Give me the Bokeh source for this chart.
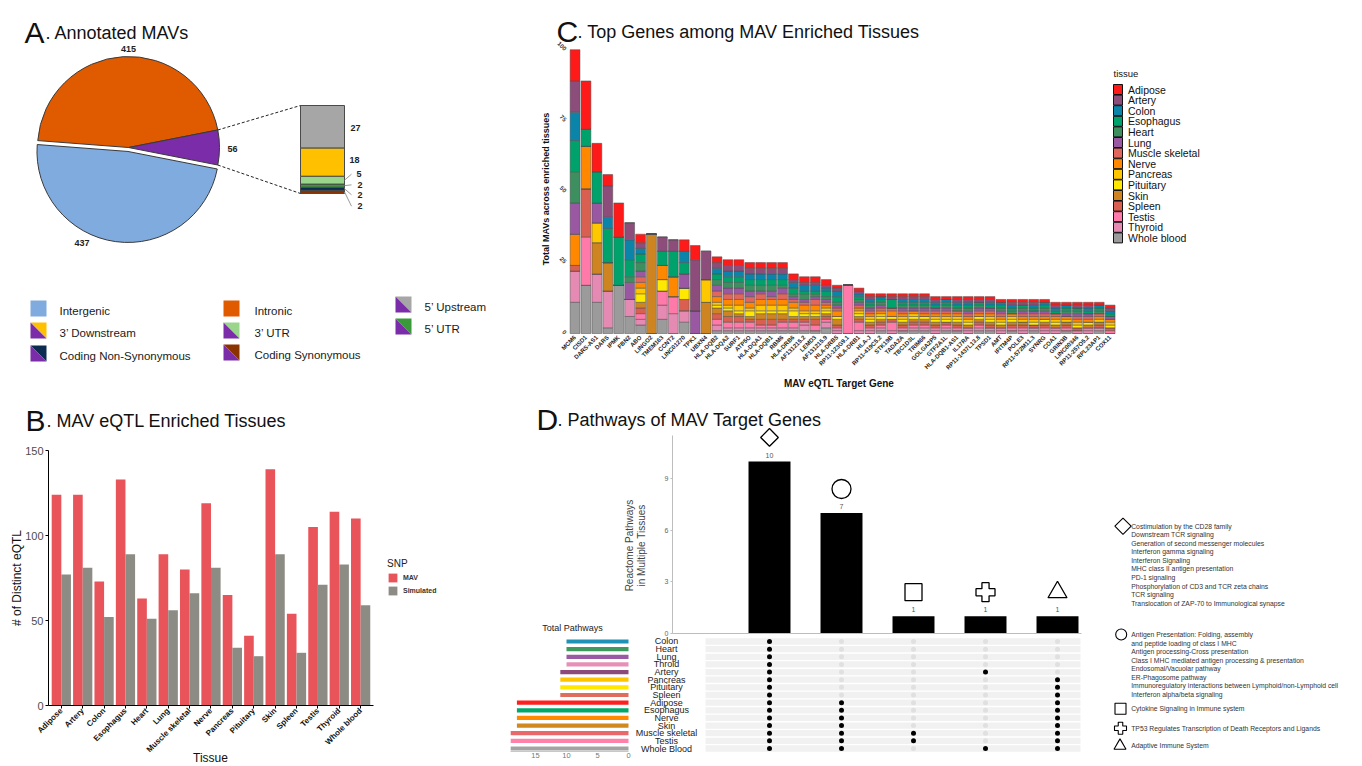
import math
from bokeh.plotting import figure
from bokeh.models import (Range1d, FixedTicker, Legend, LegendItem, LinearAxis,
                          ColumnDataSource)
from bokeh.layouts import row, column
from bokeh.embed import file_html
from bokeh.resources import INLINE
from bokeh.core.properties import value

FONT = "Liberation Sans"
FV = value(FONT)

# ------------------------------------------------------------------ data A
pie_names = ["Intergenic", "Intronic", "Other"]
pie_values = [437, 415, 56]
pie_colors = ["#80ABDE", "#E05A00", "#7B2CA8"]

box_names = ["Coding Synonymous", "Coding Non-Synonymous", "5' UTR", "3' UTR",
             "3' Downstream", "5' Upstream"]          # bottom -> top
box_values = [2, 2, 2, 5, 18, 27]
box_colors = ["#8B3300", "#0D2A4F", "#3A9A3A", "#99D68C", "#FFC000", "#A6A6A6"]

legA_names = ["Intergenic", "3\u2019 Downstream", "Coding Non-Synonymous",
              "Intronic", "3\u2019 UTR", "Coding Synonymous",
              "5\u2019 Upstream", "5\u2019 UTR"]
legA_colors = ["#80ABDE", "#FFC000", "#0D2A4F", "#E05A00", "#99D68C",
               "#8B3300", "#A6A6A6", "#3A9A3A"]
legA_split = [False, True, True, False, True, True, True, True]
OTHER_PURPLE = "#7B2CA8"

# ------------------------------------------------------------------ data B
tissues_B = ["Adipose", "Artery", "Colon", "Esophagus", "Heart", "Lung",
             "Muscle skeletal", "Nerve", "Pancreas", "Pituitary", "Skin",
             "Spleen", "Testis", "Thyroid", "Whole blood"]
mav_B = [124, 124, 73, 133, 63, 89, 80, 119, 65, 41, 139, 54, 105, 114, 110]
sim_B = [77, 81, 52, 89, 51, 56, 66, 81, 34, 29, 89, 31, 71, 83, 59]
MAV_C = "#E9535A"
SIM_C = "#8C8B84"

# ------------------------------------------------------------------ data C
genes = ["MCM6", "CISD1", "DARS-AS1", "DARS", "IPMK", "FBN2", "ABO", "LINGO2",
         "TMEM163", "CCNT2", "LINC01270", "TPK1", "UBXN4", "HLA-DQB2",
         "HLA-DQA2", "SURF1", "ATP5O", "HLA-DQA1", "HLA-DQB1", "RBM6",
         "HLA-DRB6", "AF131215.2", "LEMD3", "AF131215.9", "HLA-DRB5",
         "RP11-123G9.1", "HLA-DRB1", "HLA-J", "RP11-419C5.2", "STK19B",
         "TADA2A", "TBC1D3L", "TRIM66", "GOLGA2P5", "GTF2A1L", "HLA-DQB1-AS1",
         "IL17RA", "RP11-1437L13.8", "TPSD1", "AMT", "IFITM4P", "POLE3",
         "RP11-572M11.3", "SYNRG", "COA1", "GRIN3B", "LINC00346",
         "RP11-257O5.2", "RPL23AP1", "COX11"]

tissues_C = ["Adipose", "Artery", "Colon", "Esophagus", "Heart", "Lung",
             "Muscle skeletal", "Nerve", "Pancreas", "Pituitary", "Skin",
             "Spleen", "Testis", "Thyroid", "Whole blood"]
colors_C = ["#FF1A1A", "#8C4D7B", "#0A84A9", "#00A26B", "#3E8F5F", "#9A58A3",
            "#E1665B", "#FF8800", "#FFC700", "#FFE900", "#CD8421", "#D95F50",
            "#FF79A9", "#E58AB2", "#9B9B9B"]

adipose = [11, 17, 10, 4, 12, 0, 3, 0, 0, 0,
           4, 5, 0, 2, 2, 2, 2, 2, 2, 2,
           2, 2, 2, 2, 1, 0, 1, 1, 1, 1,
           1, 1, 1, 1, 1, 1, 1, 1, 1, 1,
           1, 1, 1, 1, 1, 1, 1, 1, 1, 1]
artery = [11, 0, 0, 11, 0, 6, 2, 0, 5, 4,
          0, 18, 10, 2, 2, 2, 2, 2, 2, 2,
          1, 1, 1, 1, 1, 0, 1, 1, 0, 1,
          1, 1, 1, 1, 0, 1, 1, 1, 1, 0,
          1, 1, 1, 0, 1, 0, 1, 1, 0, 1]
colon = [10, 0, 0, 4, 0, 7, 2, 0, 0, 0,
         4, 0, 0, 2, 2, 2, 2, 2, 2, 2,
         2, 2, 2, 1, 2, 0, 1, 1, 1, 0,
         1, 1, 1, 1, 1, 1, 1, 0, 1, 1,
         1, 0, 1, 1, 1, 1, 0, 1, 1, 1]
esophagus = [11, 6, 11, 12, 17, 6, 3, 0, 5, 9,
             4, 0, 0, 2, 2, 2, 2, 2, 2, 2,
             2, 1, 1, 2, 2, 0, 1, 1, 1, 3,
             1, 1, 1, 1, 1, 1, 1, 1, 1, 1,
             1, 1, 1, 1, 1, 1, 1, 1, 1, 1]
heart = [11, 0, 0, 0, 0, 2, 3, 0, 0, 0,
         0, 0, 0, 2, 2, 2, 2, 2, 2, 1,
         1, 2, 1, 1, 1, 0, 1, 1, 1, 0,
         1, 1, 1, 0, 1, 1, 1, 1, 0, 1,
         1, 1, 0, 1, 0, 1, 1, 0, 1, 0]
lung = [11, 0, 7, 0, 0, 6, 2, 0, 0, 0,
        5, 8, 0, 2, 2, 2, 2, 1, 2, 2,
        1, 1, 1, 1, 1, 0, 1, 1, 1, 0,
        1, 1, 1, 1, 1, 0, 1, 1, 1, 1,
        0, 1, 1, 1, 0, 1, 1, 1, 0, 1]
muscle = [0, 0, 0, 0, 0, 0, 2, 0, 0, 0,
          0, 0, 0, 2, 2, 2, 2, 2, 1, 2,
          1, 1, 2, 1, 1, 0, 1, 1, 1, 1,
          1, 0, 1, 1, 1, 1, 1, 1, 1, 1,
          0, 1, 1, 1, 1, 0, 1, 1, 1, 0]
nerve = [11, 15, 0, 0, 0, 0, 2, 0, 5, 7,
         0, 0, 0, 2, 2, 2, 2, 2, 2, 2,
         2, 2, 2, 1, 2, 0, 1, 1, 1, 2,
         1, 1, 1, 1, 1, 1, 1, 1, 1, 1,
         1, 1, 1, 1, 1, 1, 1, 1, 1, 1]
pancreas = [0, 0, 7, 0, 0, 0, 2, 0, 0, 0,
            0, 0, 8, 1, 1, 2, 1, 2, 2, 2,
            1, 1, 1, 1, 0, 0, 1, 1, 1, 0,
            1, 1, 0, 1, 1, 1, 1, 0, 1, 1,
            1, 1, 1, 0, 1, 1, 1, 0, 1, 1]
pituitary = [0, 0, 0, 0, 0, 0, 3, 0, 4, 0,
             4, 0, 0, 1, 1, 1, 2, 1, 1, 1,
             2, 1, 1, 1, 1, 0, 1, 1, 1, 1,
             1, 1, 1, 1, 1, 1, 1, 1, 1, 1,
             1, 0, 1, 1, 1, 0, 1, 1, 0, 1]
skin = [0, 0, 11, 10, 0, 0, 2, 35, 0, 0,
        0, 0, 11, 2, 2, 1, 1, 2, 2, 2,
        1, 1, 1, 1, 2, 0, 1, 1, 1, 0,
        1, 1, 1, 1, 0, 1, 1, 1, 1, 1,
        1, 1, 0, 1, 1, 1, 0, 1, 1, 0]
spleen = [2, 17, 0, 0, 0, 0, 2, 0, 0, 0,
          4, 0, 0, 2, 2, 2, 1, 2, 2, 1,
          1, 1, 2, 1, 1, 0, 1, 1, 1, 1,
          1, 1, 1, 1, 1, 1, 0, 1, 1, 0,
          1, 1, 1, 1, 0, 1, 1, 0, 1, 1]
testis = [0, 17, 0, 0, 0, 0, 2, 0, 5, 6,
          0, 0, 0, 2, 2, 2, 2, 1, 1, 2,
          2, 1, 2, 1, 1, 17, 3, 1, 1, 3,
          1, 1, 1, 1, 1, 1, 1, 1, 0, 1,
          1, 1, 0, 1, 1, 1, 0, 1, 0, 1]
thyroid = [11, 0, 10, 13, 0, 6, 2, 0, 5, 7,
           4, 0, 0, 2, 1, 1, 1, 1, 1, 1,
           1, 2, 0, 2, 1, 0, 1, 1, 1, 1,
           0, 1, 1, 1, 1, 0, 1, 1, 1, 1,
           0, 1, 1, 1, 1, 0, 1, 1, 1, 0]
whole_blood = [11, 17, 11, 2, 17, 6, 3, 0, 5, 0,
               4, 0, 0, 1, 1, 1, 1, 1, 1, 1,
               1, 1, 1, 2, 0, 0, 0, 0, 1, 0,
               1, 1, 1, 0, 1, 1, 0, 1, 1, 0,
               1, 0, 1, 0, 0, 1, 0, 0, 1, 0]
series_C = [adipose, artery, colon, esophagus, heart, lung, muscle, nerve,
            pancreas, pituitary, skin, spleen, testis, thyroid, whole_blood]

# ------------------------------------------------------------------ data D
upset_counts = [10, 7, 1, 1, 1]
upset_shapes = ["diamond", "circle", "square", "plus", "triangle"]
d_tissues = ["Colon", "Heart", "Lung", "Throid", "Artery", "Pancreas",
             "Pituitary", "Spleen", "Adipose", "Esophagus", "Nerve", "Skin",
             "Muscle skeletal", "Testis", "Whole Blood"]
d_totals = [10, 10, 10, 10, 11, 11, 11, 11, 18, 18, 18, 18, 19, 19, 19]
d_colors = ["#1E93B6", "#3F9A5F", "#9A5BA5", "#E78FB7", "#8C4A7A", "#FFC400",
            "#FFE700", "#E06C5E", "#FF1F1F", "#00A86B", "#FF8A00", "#D0891F",
            "#E9686A", "#FF80A9", "#A3A3A3"]
set_members = [
    ["Colon", "Heart", "Lung", "Throid", "Artery", "Pancreas", "Pituitary",
     "Spleen", "Adipose", "Esophagus", "Nerve", "Skin", "Muscle skeletal",
     "Testis", "Whole Blood"],
    ["Adipose", "Esophagus", "Nerve", "Skin", "Muscle skeletal", "Testis",
     "Whole Blood"],
    ["Muscle skeletal", "Testis"],
    ["Artery", "Whole Blood"],
    ["Pancreas", "Pituitary", "Spleen", "Adipose", "Esophagus", "Nerve", "Skin",
     "Muscle skeletal", "Testis", "Whole Blood"],
]
pw_diamond = ["Costimulation by the CD28 family", "Downstream TCR signaling",
              "Generation of second messenger molecules",
              "Interferon gamma signaling", "Interferon Signaling",
              "MHC class II antigen presentation", "PD-1 signaling",
              "Phosphorylation of CD3 and TCR zeta chains", "TCR signaling",
              "Translocation of ZAP-70 to Immunological synapse"]
pw_circle = ["Antigen Presentation: Folding, assembly",
             "and peptide loading of class I MHC",
             "Antigen processing-Cross presentation",
             "Class I MHC mediated antigen processing & presentation",
             "Endosomal/Vacuolar pathway", "ER-Phagosome pathway",
             "Immunoregulatory interactions between Lymphoid/non-Lymphoid cell",
             "Interferon alpha/beta signaling"]
pw_square = ["Cytokine Signaling in Immune system"]
pw_plus = ["TP53 Regulates Transcription of Death Receptors and Ligands"]
pw_triangle = ["Adaptive Immune System"]


# ------------------------------------------------------------------ helpers
def fig(w, h, xr, yr):
    p = figure(width=w, height=h, x_range=xr, y_range=yr, output_backend="svg",
               toolbar_location=None, min_border=0, sizing_mode="fixed",
               x_axis_location=None, y_axis_location=None)
    p.grid.visible = False
    p.outline_line_color = None
    p.background_fill_color = "white"
    p.border_fill_color = "white"
    return p


def txt(p, x, y, text, size, color="#111111", style="normal", align="left",
        baseline="alphabetic", angle=0.0, **kw):
    p.text(x=[x], y=[y], text=[text], text_font=FV, text_font_size=size,
           text_color=color, text_font_style=style, text_align=align,
           text_baseline=baseline, angle=angle, **kw)


def axis(p, side, loc, ticks, size, color="#4D4D4D", bold=False, line=None,
         bounds=None, overrides=None, orient=None, tick_out=0, standoff=2, **kw):
    ax = LinearAxis(fixed_location=loc, ticker=FixedTicker(ticks=ticks), **kw)
    ax.major_label_text_font = FONT
    ax.major_label_text_font_size = size
    ax.major_label_text_color = color
    ax.major_label_text_font_style = "bold" if bold else "normal"
    ax.minor_tick_line_color = None
    ax.major_tick_in = 0
    ax.major_tick_out = tick_out
    ax.major_label_standoff = standoff
    ax.axis_line_color = line
    ax.major_tick_line_color = line if tick_out else None
    if bounds is not None:
        ax.bounds = bounds
    if overrides is not None:
        ax.major_label_overrides = overrides
    if orient is not None:
        ax.major_label_orientation = orient
    p.add_layout(ax, side)
    return ax


# ================================================================== Panel A (+ its legend)
pA = fig(508, 382, Range1d(0, 508), Range1d(-382, 0))
tot = sum(pie_values)
sweep = [v / tot * 2 * math.pi for v in pie_values]
o_s, o_e = -sweep[2] / 2, sweep[2] / 2
n_s, n_e = o_e, o_e + sweep[1]
g_s, g_e = n_e, n_e + sweep[0]
CX, CY, R = 128, -147, 91
mid = (g_s + g_e) / 2
EXPL = 4
srcA = ColumnDataSource(dict(
    x=[CX + EXPL * math.cos(mid), CX, CX],
    y=[CY + EXPL * math.sin(mid), CY, CY],
    s=[g_s, n_s, o_s], e=[g_e, n_e, o_e], c=pie_colors))
pA.wedge(x="x", y="y", radius=R, start_angle="s", end_angle="e",
         fill_color="c", line_color="#3a3a3a", line_width=1, source=srcA)

lab_deg = [244, 90, -1]
lab_r = [106, 99, 104]
pA.text(x=[CX + r * math.cos(math.radians(a)) for a, r in zip(lab_deg, lab_r)],
        y=[CY + r * math.sin(math.radians(a)) for a, r in zip(lab_deg, lab_r)],
        text=[str(v) for v in pie_values], text_font=FV, text_font_size="9px",
        text_font_style="bold", text_align="center", text_baseline="middle",
        text_color="#222222")

BOX_X0, BOX_W, BOX_BOT, BOX_H = 300, 44, -193, 88
scale = BOX_H / sum(box_values)
pA.extra_y_ranges = {"box": Range1d((-382 - BOX_BOT) / scale, (0 - BOX_BOT) / scale)}
tops, bots, acc = [], [], 0
for v in box_values:
    bots.append(acc)
    acc += v
    tops.append(acc)
pA.vbar(x=[BOX_X0 + BOX_W / 2] * len(box_values), width=BOX_W, bottom=bots, top=tops,
        fill_color=box_colors, line_color="#4a4a4a", line_width=1, y_range_name="box")
pA.segment(x0=[CX + R * math.cos(o_e), CX + R * math.cos(o_s)],
           y0=[CY + R * math.sin(o_e), CY + R * math.sin(o_s)],
           x1=[BOX_X0, BOX_X0], y1=[BOX_BOT + BOX_H, BOX_BOT],
           line_color="#222222", line_width=1, line_dash="3 2")
box_lab_y = [-8.1, -0.8, 5.5, 12.3, 21.6, 42.0]
box_lab_x = [357, 357, 357, 356, 349, 350]
small = [0, 1, 2, 3]
pA.segment(x0=[BOX_X0 + BOX_W] * 4, y0=[(bots[i] + tops[i]) / 2 for i in small],
           x1=[351] * 4, y1=[box_lab_y[i] for i in small],
           line_color="#9a9a9a", line_width=1, y_range_name="box")
pA.text(x=box_lab_x, y=box_lab_y, text=[str(v) for v in box_values], text_font=FV,
        text_font_size="9px", text_font_style="bold", text_baseline="middle",
        text_color="#222222", y_range_name="box")
txt(pA, 24, -32, "A", "30px")
txt(pA, 45, -32, ". Annotated MAVs", "18px")

leg_x0 = [30, 30, 30, 223, 223, 223, 395, 395]
leg_y0 = [300, 322, 345, 300, 322, 344, 296, 318]
leg_tx = [59, 59, 59, 254, 254, 254, 424, 424]
SW = 16
xs, ys, fc = [], [], []
for x0, y0, c, sp in zip(leg_x0, leg_y0, legA_colors, legA_split):
    t, b, r_ = -y0, -y0 - SW, x0 + SW
    if sp:
        xs += [[x0, r_, r_], [x0, x0, r_]]
        ys += [[t, t, b], [t, b, b]]
        fc += [c, OTHER_PURPLE]
    else:
        xs.append([x0, r_, r_, x0])
        ys.append([t, t, b, b])
        fc.append(c)
pA.patches(xs=xs, ys=ys, fill_color=fc, line_color=None)
pA.text(x=leg_tx, y=[-(y0 + SW / 2 + 2) for y0 in leg_y0], text=legA_names,
        text_font=FV, text_font_size="11.5px", text_baseline="middle",
        text_color="#1a1a1a")

# ================================================================== Panel B
BU, BPY = 21.38, 1.7
bx = lambda px: 0.4 + (px - 48) / BU
by = lambda py: (705 - py) / BPY
pB = fig(508, 382, Range1d(bx(0), bx(508)), Range1d(by(764), by(382)))
xB = list(range(1, len(tissues_B) + 1))
srcB = ColumnDataSource(dict(x=xB, mx=[v - 0.225 for v in xB],
                             sx=[v + 0.225 for v in xB], mav=mav_B, sim=sim_B))
rM = pB.vbar(x="mx", top="mav", width=0.45, source=srcB, fill_color=MAV_C,
             line_color=None)
rS = pB.vbar(x="sx", top="sim", width=0.45, source=srcB, fill_color=SIM_C,
             line_color=None)
axis(pB, "left", bx(48), [0, 50, 100, 150], "11px", line="black", bounds=(0, 150),
     tick_out=3, standoff=2)
axis(pB, "below", 0, xB, "8px", color="#111111", bold=True, line="black",
     bounds=(0.4, len(xB) + 0.6), overrides={i: t for i, t in zip(xB, tissues_B)},
     orient=math.pi / 4, tick_out=3, standoff=1)
legB = Legend(items=[LegendItem(label="MAV", renderers=[rM]),
                     LegendItem(label="Simulated", renderers=[rS])],
              title="SNP", location=(387, 764 - 596), margin=0, padding=0,
              glyph_width=11, glyph_height=11, label_height=11, spacing=2,
              label_standoff=5, title_standoff=3,
              title_text_font=FONT, title_text_font_size="10px",
              title_text_color="#222222", title_text_font_style="normal",
              label_text_font=FONT, label_text_font_size="7px",
              label_text_color="#333333", label_text_font_style="bold",
              border_line_color=None, background_fill_alpha=0)
pB.add_layout(legB)
txt(pB, bx(16), by(577.5), "# of Distinct eQTL", "12px", align="center",
    baseline="middle", angle=math.pi / 2)
txt(pB, bx(210), by(757), "Tissue", "12px", align="center", baseline="middle")
txt(pB, bx(25), by(420), "B", "30px")
txt(pB, bx(46), by(420), ". MAV eQTL Enriched Tissues", "18px")

# ================================================================== Panel C
PXU, PYU = 10.92, 2.838
cxp = lambda px: 0.4 + (px - 568) / PXU
cyp = lambda py: (333 - py) / PYU
pC = fig(852, 398, Range1d(cxp(508), cxp(1360)), Range1d(cyp(398), cyp(0)))
dataC = {"x": list(range(1, len(genes) + 1))}
for t, vals in zip(tissues_C, series_C):
    dataC[t] = vals
srcC = ColumnDataSource(dataC)
pC.vbar_stack(stackers=tissues_C[::-1], x="x", width=0.9, color=colors_C[::-1],
              line_color="#4d4d4d", line_width=0.5, source=srcC)
LEG_Y0, LEG_STEP = 84, 10.6
ly = [cyp(LEG_Y0 + LEG_STEP * i + 5) for i in range(len(tissues_C))]
pC.rect(x=[cxp(1117.5)] * len(tissues_C), y=ly, width=9, height=10,
        width_units="screen", height_units="screen", fill_color=colors_C,
        line_color="#111111", line_width=1)
pC.text(x=[cxp(1127.5)] * len(tissues_C), y=ly, text=tissues_C, text_font=FV,
        text_font_size="10.5px", text_baseline="middle", text_color="#111111")
txt(pC, cxp(1113), cyp(73), "tissue", "9.5px", baseline="middle")
axis(pC, "left", cxp(567), [0, 25, 50, 75, 100], "6px", color="#333333", bold=True,
     orient=-math.pi / 4, standoff=2)
axis(pC, "below", 0, list(range(1, len(genes) + 1)), "6px", color="#222222",
     bold=True, overrides={i + 1: g for i, g in enumerate(genes)},
     orient=math.pi / 4, standoff=3)
txt(pC, cxp(545), cyp(188.5), "Total MAVs across enriched tissues", "9px",
    style="bold", align="center", baseline="middle", angle=math.pi / 2)
txt(pC, cxp(838.5), cyp(383), "MAV eQTL Target Gene", "10px", style="bold",
    align="center", baseline="middle")
txt(pC, cxp(556), cyp(31), "C", "30px")
txt(pC, cxp(577), cyp(31), ". Top Genes among MAV Enriched Tissues", "18px")

# ================================================================== Panel D (bars + matrix + totals)
UX, UY = 72.0, 17.2
dx = lambda px: 1 + (px - 769) / UX
dy = lambda py: (633 - py) / UY
RY, TX = 7.643, 6.2
ry = lambda py: (748 - py) / RY
tx_ = lambda px: (628 - px) / TX
pD = fig(582, 366, Range1d(dx(508), dx(1090)), Range1d(dy(764), dy(398)))
pD.extra_x_ranges = {"tot": Range1d(tx_(508), tx_(1090))}
pD.extra_y_ranges = {"rows": Range1d(ry(764), ry(398))}

xsD = list(range(1, len(upset_counts) + 1))
pD.vbar(x=xsD, top=upset_counts, width=0.583, fill_color="black", line_color=None)
pD.text(x=xsD, y=upset_counts, text=[str(c) for c in upset_counts], text_font=FV,
        text_font_size="7px", text_color="#555555", text_align="center",
        text_baseline="bottom", y_offset=-4)
mk_map = {"diamond": ("square", math.pi / 4, 12.5), "circle": ("circle", 0, 19),
          "square": ("square", 0, 17), "plus": ("plus", 0, 19),
          "triangle": ("triangle", 0, 19)}
pD.scatter(x=xsD, y=[c + 1.4 for c in upset_counts],
           marker=[mk_map[s][0] for s in upset_shapes],
           angle=[mk_map[s][1] for s in upset_shapes],
           size=[mk_map[s][2] for s in upset_shapes],
           fill_color="white", line_color="black", line_width=1.3)
axis(pD, "left", dx(672), [0, 3, 6, 9], "7px", color="#666666", line="#BDBDBD",
     bounds=(0, dy(435)), tick_out=2, standoff=2)
axis(pD, "below", 0, [], "7px", line="#BDBDBD", bounds=(dx(672), dx(1081)))

nT = len(d_tissues)
rows_y = [nT - 1 - k for k in range(nT)]
pD.hbar(y=rows_y, left=dx(705), right=dx(1080), height=0.82, fill_color="#F1F1F1",
        line_color=None, y_range_name="rows")
mx, my, mc = [], [], []
for j, members in enumerate(set_members):
    for k, t in enumerate(d_tissues):
        mx.append(j + 1)
        my.append(nT - 1 - k)
        mc.append("black" if t in members else "#E0E0E0")
pD.scatter(x=mx, y=my, size=5, fill_color=mc, line_color=None, y_range_name="rows")

pD.hbar(y=rows_y, left=0, right=d_totals, height=0.55, fill_color=d_colors,
        line_color=None, x_range_name="tot", y_range_name="rows")
pD.text(x=[tx_(666)] * nT, y=rows_y, text=d_tissues, text_font=FV,
        text_font_size="9px", text_color="#222222", text_align="center",
        text_baseline="middle", x_range_name="tot", y_range_name="rows")
axis(pD, "below", dy(751), [0, 5, 10, 15], "7.5px", color="#777777",
     line="#C8C8C8", bounds=(0, tx_(510)), standoff=1, x_range_name="tot")

txt(pD, dx(629), dy(545), "Reactome Pathways", "10px", color="#444444",
    align="center", baseline="middle", angle=math.pi / 2)
txt(pD, dx(641), dy(545), "in Multiple Tissues", "10px", color="#444444",
    align="center", baseline="middle", angle=math.pi / 2)
txt(pD, dx(536), dy(419), "D", "30px")
txt(pD, dx(557), dy(419), ". Pathways of MAV Target Genes", "18px")
txt(pD, dx(572), dy(627), "Total Pathways", "9px", color="#222222",
    align="center", baseline="middle")

# ================================================================== Panel D legend
pG = fig(270, 366, Range1d(1090, 1360), Range1d(-764, -398))
groups = [pw_diamond, pw_circle, pw_square, pw_plus, pw_triangle]
g_start = [525.7, 634.0, 708.3, 727.7, 745.3]
STEP = 8.55
tx, ty, tt = [], [], []
for lines, y0 in zip(groups, g_start):
    for i, s in enumerate(lines):
        tx.append(1130.7)
        ty.append(-(y0 + i * STEP))
        tt.append(s)
pG.text(x=tx, y=ty, text=tt, text_font=FV, text_font_size="6.8px",
        text_color="#333333", text_baseline="middle")
leg_mk = {"diamond": ("square", math.pi / 4, 11.5), "circle": ("circle", 0, 11),
          "square": ("square", 0, 11), "plus": ("plus", 0, 12),
          "triangle": ("triangle", 0, 12)}
pG.scatter(x=[1122.5, 1120.7, 1120, 1120, 1119.5], y=[-y for y in g_start],
           marker=[leg_mk[s][0] for s in upset_shapes],
           angle=[leg_mk[s][1] for s in upset_shapes],
           size=[leg_mk[s][2] for s in upset_shapes],
           fill_color="white", line_color="black", line_width=1.1)

# ================================================================== layout
left = column(pA, pB, spacing=0, width=508, height=764, sizing_mode="fixed")
dblock = row(pD, pG, spacing=0, width=852, height=366, sizing_mode="fixed")
right = column(pC, dblock, spacing=0, width=852, height=764, sizing_mode="fixed")
page = row(left, right, spacing=0, width=1360, height=764, sizing_mode="fixed")

open("out.html", "w").write(file_html(page, INLINE, title="MAV figure"))
